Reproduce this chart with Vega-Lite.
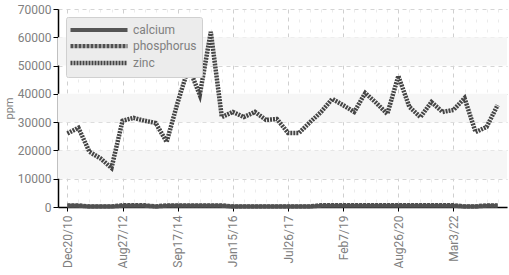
{
  "$schema": "https://vega.github.io/schema/vega-lite/v6.json",
  "autosize": {"type": "none"},
  "padding": {"left": 58, "top": 9, "right": 2, "bottom": 68},
  "width": 449,
  "height": 198,
  "background": "#ffffff",
  "config": {
    "font": "Roboto, sans-serif",
    "view": {"stroke": null}
  },
  "datasets": {
    "bands": [
      {"lo": 10000, "hi": 20000},
      {"lo": 30000, "hi": 40000},
      {"lo": 50000, "hi": 60000}
    ],
    "main": [
      {"date": "Dec20/10", "zinc": 26000, "phosphorus": 600, "calcium": 400},
      {"date": "Apr12/11", "zinc": 28000, "phosphorus": 600, "calcium": 400},
      {"date": "Jul25/11", "zinc": 19500, "phosphorus": 250, "calcium": 150},
      {"date": "Nov14/11", "zinc": 17200, "phosphorus": 250, "calcium": 150},
      {"date": "Mar19/12", "zinc": 13800, "phosphorus": 250, "calcium": 150},
      {"date": "Aug27/12", "zinc": 30500, "phosphorus": 650, "calcium": 400},
      {"date": "Jan7/13", "zinc": 31500, "phosphorus": 650, "calcium": 400},
      {"date": "May13/13", "zinc": 30500, "phosphorus": 650, "calcium": 400},
      {"date": "Oct21/13", "zinc": 29700, "phosphorus": 250, "calcium": 150},
      {"date": "Apr14/14", "zinc": 23000, "phosphorus": 600, "calcium": 400},
      {"date": "Sep17/14", "zinc": 37000, "phosphorus": 600, "calcium": 400},
      {"date": "Dec8/14", "zinc": 49500, "phosphorus": 600, "calcium": 400},
      {"date": "Mar30/15", "zinc": 39600, "phosphorus": 600, "calcium": 400},
      {"date": "Jun22/15", "zinc": 61900, "phosphorus": 600, "calcium": 400},
      {"date": "Sep28/15", "zinc": 31800, "phosphorus": 600, "calcium": 400},
      {"date": "Jan15/16", "zinc": 33600, "phosphorus": 250, "calcium": 150},
      {"date": "Apr18/16", "zinc": 31800, "phosphorus": 250, "calcium": 150},
      {"date": "Aug15/16", "zinc": 33600, "phosphorus": 250, "calcium": 150},
      {"date": "Dec5/16", "zinc": 30800, "phosphorus": 250, "calcium": 150},
      {"date": "Mar27/17", "zinc": 31100, "phosphorus": 250, "calcium": 150},
      {"date": "Jul26/17", "zinc": 26200, "phosphorus": 250, "calcium": 150},
      {"date": "Nov13/17", "zinc": 26200, "phosphorus": 250, "calcium": 150},
      {"date": "Mar12/18", "zinc": 30000, "phosphorus": 250, "calcium": 150},
      {"date": "Jun25/18", "zinc": 33600, "phosphorus": 650, "calcium": 400},
      {"date": "Oct8/18", "zinc": 38200, "phosphorus": 650, "calcium": 400},
      {"date": "Feb7/19", "zinc": 36000, "phosphorus": 650, "calcium": 400},
      {"date": "May20/19", "zinc": 33600, "phosphorus": 650, "calcium": 400},
      {"date": "Sep9/19", "zinc": 40300, "phosphorus": 650, "calcium": 400},
      {"date": "Jan13/20", "zinc": 36800, "phosphorus": 650, "calcium": 400},
      {"date": "Apr27/20", "zinc": 32900, "phosphorus": 650, "calcium": 400},
      {"date": "Aug26/20", "zinc": 46300, "phosphorus": 650, "calcium": 400},
      {"date": "Dec14/20", "zinc": 35400, "phosphorus": 650, "calcium": 400},
      {"date": "Apr5/21", "zinc": 31800, "phosphorus": 650, "calcium": 400},
      {"date": "Jul19/21", "zinc": 37100, "phosphorus": 650, "calcium": 400},
      {"date": "Nov8/21", "zinc": 33600, "phosphorus": 650, "calcium": 400},
      {"date": "Mar3/22", "zinc": 34300, "phosphorus": 650, "calcium": 400},
      {"date": "Jun13/22", "zinc": 38500, "phosphorus": 250, "calcium": 150},
      {"date": "Sep26/22", "zinc": 26500, "phosphorus": 250, "calcium": 150},
      {"date": "Jan9/23", "zinc": 28300, "phosphorus": 600, "calcium": 400},
      {"date": "May1/23", "zinc": 36000, "phosphorus": 600, "calcium": 400}
    ]
  },
  "layer": [
    {
      "data": {"name": "bands"},
      "mark": {"type": "rect", "color": "#f6f6f6"},
      "encoding": {
        "y": {
          "field": "lo",
          "type": "quantitative",
          "scale": {"domain": [0, 70000], "nice": false},
          "axis": {
            "title": "ppm",
            "titleFontSize": 11,
            "titleFontWeight": "normal",
            "titleColor": "#808080",
            "titlePadding": 3,
            "format": "d",
            "values": [0, 10000, 20000, 30000, 40000, 50000, 60000, 70000],
            "labelFontSize": 12,
            "labelColor": "#808080",
            "labelPadding": 2,
            "domainColor": "#000000",
            "domainWidth": 1.5,
            "tickColor": "#000000",
            "tickSize": 5,
            "grid": true,
            "gridColor": "#d5d5d5",
            "gridDash": [4, 4]
          }
        },
        "y2": {"field": "hi"}
      }
    },
    {
      "data": {"name": "main"},
      "transform": [
        {"fold": ["calcium", "phosphorus", "zinc"], "as": ["series", "value"]}
      ],
      "mark": {"type": "line", "strokeCap": "butt"},
      "encoding": {
        "x": {
          "field": "date",
          "type": "ordinal",
          "sort": null,
          "scale": {"type": "point", "padding": 0.85},
          "axis": {
            "title": null,
            "labelAngle": -90,
            "labelFontSize": 12,
            "labelColor": "#808080",
            "labelPadding": 4,
            "labelExpr": "indexof(['Dec20/10','Aug27/12','Sep17/14','Jan15/16','Jul26/17','Feb7/19','Aug26/20','Mar3/22'], datum.value) >= 0 ? datum.value : ''",
            "domainColor": "#000000",
            "domainWidth": 1.5,
            "tickColor": "#000000",
            "tickSize": 4,
            "tickOpacity": {"condition": {"test": "indexof(['Dec20/10','Aug27/12','Sep17/14','Jan15/16','Jul26/17','Feb7/19','Aug26/20','Mar3/22'], datum.value) >= 0", "value": 1}, "value": 0},
            "grid": true,
            "gridColor": {"condition": {"test": "indexof(['Dec20/10','Aug27/12','Sep17/14','Jan15/16','Jul26/17','Feb7/19','Aug26/20','Mar3/22'], datum.value) >= 0", "value": "#cfcfcf"}, "value": "#ebebeb"},
            "gridDash": {"condition": {"test": "indexof(['Dec20/10','Aug27/12','Sep17/14','Jan15/16','Jul26/17','Feb7/19','Aug26/20','Mar3/22'], datum.value) >= 0", "value": [4, 4]}, "value": [3, 7]}
          }
        },
        "y": {
          "field": "value",
          "type": "quantitative",
          "scale": {"domain": [0, 70000], "nice": false},
          "axis": {
            "title": "ppm",
            "titleFontSize": 11,
            "titleFontWeight": "normal",
            "titleColor": "#808080",
            "titlePadding": 3,
            "format": "d",
            "values": [0, 10000, 20000, 30000, 40000, 50000, 60000, 70000],
            "labelFontSize": 12,
            "labelColor": "#808080",
            "labelPadding": 2,
            "domainColor": "#000000",
            "domainWidth": 1.5,
            "tickColor": "#000000",
            "tickSize": 5,
            "grid": true,
            "gridColor": "#d5d5d5",
            "gridDash": [4, 4]
          }
        },
        "color": {
          "field": "series",
          "type": "nominal",
          "scale": {"domain": ["calcium", "phosphorus", "zinc"], "range": ["#555555", "#505050", "#454545"]},
          "legend": {
            "title": null,
            "orient": "none",
            "legendX": 8,
            "legendY": 8,
            "symbolType": "M-5,0H5",
            "symbolSize": 130,
            "symbolOffset": 20,
            "symbolStrokeWidth": 4,
            "labelFontSize": 12,
            "labelColor": "#808080",
            "labelOffset": 26,
            "rowPadding": -2,
            "fillColor": "#ececec",
            "strokeColor": "#d0d0d0",
            "padding": 5,
            "cornerRadius": 2
          }
        },
        "strokeDash": {
          "field": "series",
          "type": "nominal",
          "scale": {"domain": ["calcium", "phosphorus", "zinc"], "range": [[1, 0], [3, 1], [2, 1]]},
          "legend": null
        },
        "strokeWidth": {
          "field": "series",
          "type": "nominal",
          "scale": {"domain": ["calcium", "phosphorus", "zinc"], "range": [4, 4.5, 4]},
          "legend": null
        }
      }
    }
  ]
}
